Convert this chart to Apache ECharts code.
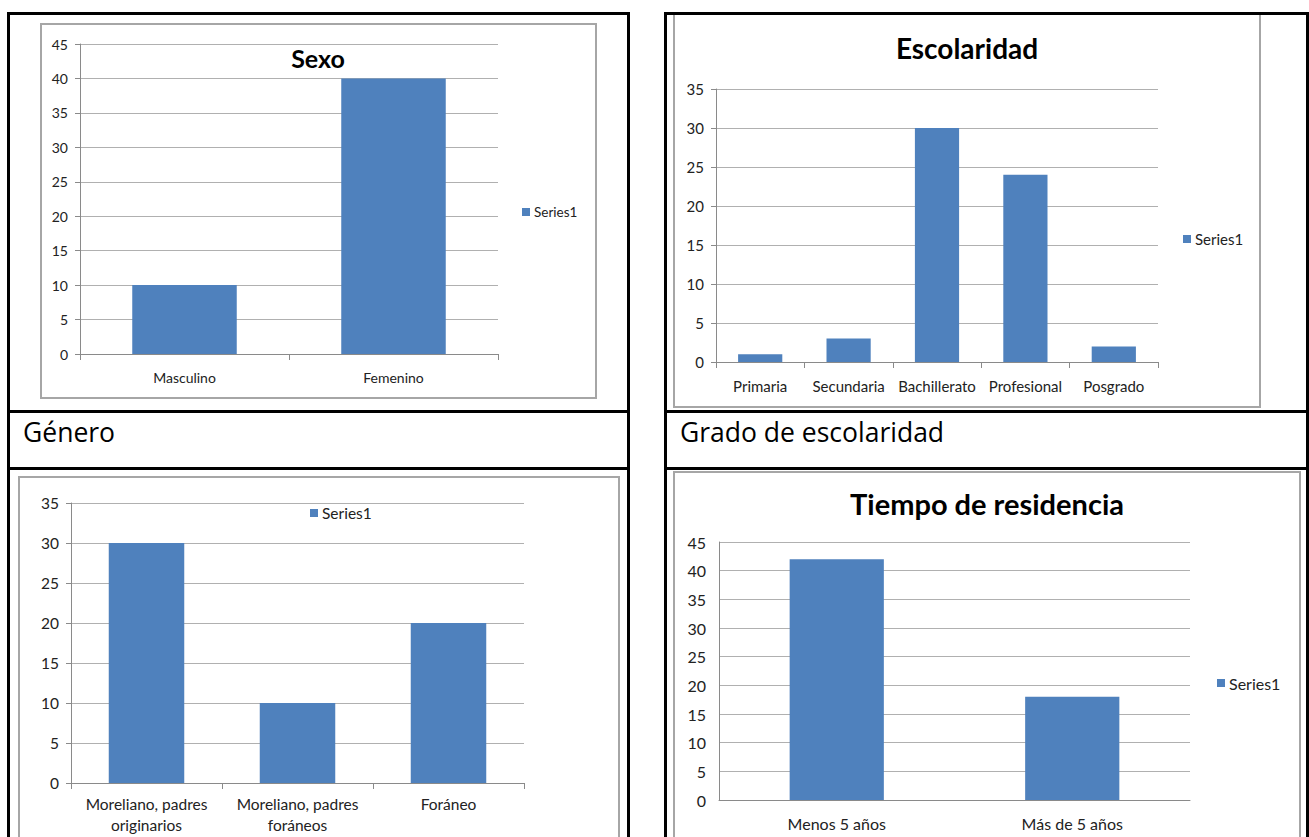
<!DOCTYPE html>
<html>
<head>
<meta charset="utf-8">
<script src="https://cdn.jsdelivr.net/npm/echarts@6/dist/echarts.min.js"></script>
<style>
html,body{margin:0;padding:0;background:#fff;}
#main{width:1309px;height:837px;}
</style>
</head>
<body>
<div id="main"></div>
<script>
// ---- data ----
const sexoTitle = 'Sexo';
const sexoCategories = ['Masculino', 'Femenino'];
const sexoValues = [10, 40];

const escTitle = 'Escolaridad';
const escCategories = ['Primaria', 'Secundaria', 'Bachillerato', 'Profesional', 'Posgrado'];
const escValues = [1, 3, 30, 24, 2];

const origenCategories = ['Moreliano, padres\noriginarios', 'Moreliano, padres\nforáneos', 'Foráneo'];
const origenValues = [30, 10, 20];

const resTitle = 'Tiempo de residencia';
const resCategories = ['Menos 5 años', 'Más de 5 años'];
const resValues = [42, 18];

const seriesName = 'Series1';
const captions = ['Género', 'Grado de escolaridad'];
const yMax = [45, 35, 35, 45];
const yStep = 5;

// ---- styling ----
const FONT = 'Lato, "Open Sans", sans-serif';
const BAR = '#4F81BD';
const GRIDC = '#b0b0b0';
const AXISC = '#8a8a8a';
const TXT = '#222';

const grids = [
  {left: 80, top: 44, width: 418, height: 310},
  {left: 716, top: 89, width: 442, height: 273},
  {left: 71, top: 503, width: 453, height: 280},
  {left: 719, top: 542, width: 471, height: 258}
];
const catSets = [sexoCategories, escCategories, origenCategories, resCategories];
const valSets = [sexoValues, escValues, origenValues, resValues];
const barWidths = ['50%', '50%', '50%', '40%'];
const fontSizes = [14, 15, 15.5, 16];
const xMargins = [12.5, 13.5, 10.5, 12.5];
const yMargins = [12, 12, 12, 13];
const showTicks = [true, true, true, false];

const xAxes = catSets.map((cats, i) => ({
  type: 'category', gridIndex: i, data: cats,
  axisLine: {lineStyle: {color: AXISC, width: 1}},
  axisTick: {show: showTicks[i], length: 6, lineStyle: {color: AXISC}},
  axisLabel: {interval: 0, color: TXT, fontFamily: FONT, fontSize: fontSizes[i], margin: xMargins[i], lineHeight: 21}
}));
const yAxes = yMax.map((mx, i) => ({
  type: 'value', gridIndex: i, min: 0, max: mx, interval: yStep,
  axisLine: {show: true, lineStyle: {color: AXISC, width: 1}},
  axisTick: {show: showTicks[i], length: 5, lineStyle: {color: AXISC}},
  splitLine: {lineStyle: {color: GRIDC, width: 1}},
  axisLabel: {color: TXT, fontFamily: FONT, fontSize: fontSizes[i], margin: yMargins[i]}
}));
const series = valSets.map((vals, i) => ({
  type: 'bar', name: seriesName, xAxisIndex: i, yAxisIndex: i,
  data: vals, barWidth: barWidths[i], itemStyle: {color: BAR},
  emphasis: {disabled: true}
}));

const legendPos = [
  {left: 522, top: 204, fs: 13.5},
  {left: 1183, top: 231, fs: 15},
  {left: 310, top: 505, fs: 15.5},
  {left: 1217, top: 675, fs: 16}
];
const legends = legendPos.map(p => ({
  left: p.left, top: p.top, padding: 0, icon: 'rect', itemWidth: 8, itemHeight: 8,
  data: [seriesName], selectedMode: false,
  textStyle: {color: TXT, fontFamily: FONT, fontSize: p.fs, lineHeight: 16, padding: [0, 0, 0, -1]}
}));

function hLine(x, y, w) { return {type: 'rect', shape: {x: x, y: y, width: w, height: 3}, style: {fill: '#000'}, z: 100}; }
function vLine(x, y, h) { return {type: 'rect', shape: {x: x, y: y, width: 3, height: h}, style: {fill: '#000'}, z: 100}; }
function frame(x, y, w, h) { return {type: 'rect', shape: {x: x, y: y, width: w, height: h}, style: {fill: 'none', stroke: '#a6a6a6', lineWidth: 2}, z: -10}; }
function titleText(txt, cx, cy, fs) {
  return {type: 'text', x: cx, y: cy, z: 50, style: {text: txt, fill: '#000', font: 'bold ' + fs + 'px ' + FONT, textAlign: 'center', textVerticalAlign: 'middle'}};
}
function caption(txt, x, cy) {
  return {type: 'text', x: x, y: cy, z: 50, style: {text: txt, fill: '#000', font: '26.5px "Open Sans", sans-serif', textAlign: 'left', textVerticalAlign: 'middle'}};
}

const graphics = [
  frame(41, 24, 555, 374),
  frame(674, 13, 586, 394),
  frame(19, 477, 600, 380),
  frame(674, 472, 626, 380),
  // left table
  hLine(7, 12, 623), hLine(7, 410, 623), hLine(7, 467, 623),
  vLine(7, 12, 830), vLine(627, 12, 830),
  // right table
  hLine(664, 12, 645), hLine(664, 410, 645), hLine(664, 467, 645),
  vLine(664, 12, 830), vLine(1306, 12, 830),
  titleText(sexoTitle, 318, 58, 25),
  titleText(escTitle, 967, 48, 28),
  titleText(resTitle, 987, 503, 29),
  caption(captions[0], 23, 432),
  caption(captions[1], 680, 432)
];

const chart = echarts.init(document.getElementById('main'), null, {renderer: 'svg'});
chart.setOption({
  animation: false,
  backgroundColor: '#fff',
  grid: grids,
  xAxis: xAxes,
  yAxis: yAxes,
  legend: legends,
  series: series,
  graphic: {elements: graphics}
});
</script>
</body>
</html>
